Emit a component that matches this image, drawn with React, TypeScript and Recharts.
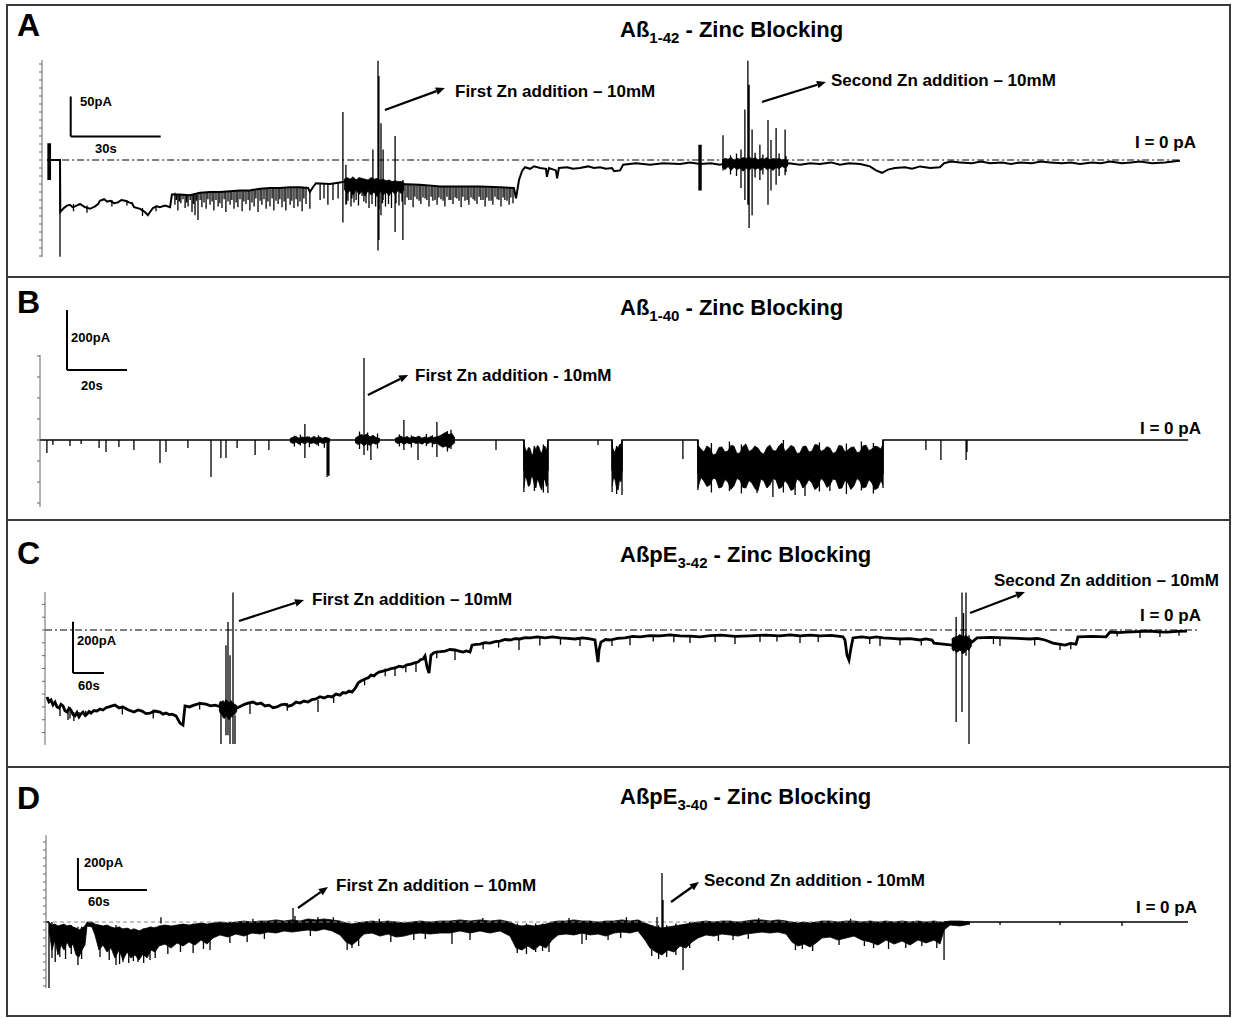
import React from 'react';
import { ComposedChart, Line, Area, XAxis, YAxis, ReferenceLine } from 'recharts';

// ================= Panel A : Aß1-42 (time in s, current in pA) =================
const traceA = [[1.7,0],[3,0],[6,0],[6.1,-65],[7.3,-60],[8.3,-57],[9.3,-56],[10.2,-59],[11,-58],[12.7,-55],[13.5,-57],[14.3,-59],[16,-61],[17.7,-58],[18.7,-55],[19.3,-51],[20.7,-49],[21.7,-52],[22.7,-51],[24,-54],[25.3,-53],[26.5,-50],[27.7,-51],[29,-53],[30,-54],[30.7,-59],[32.7,-61],[34.3,-65],[35.3,-69],[36,-65],[37,-60],[38.2,-58],[39.3,-59],[41,-57],[42.7,-59],[43.3,-43],[46,-43],[49.3,-44],[52.7,-41],[56,-40],[59.3,-40],[62.7,-39],[66,-38],[69.3,-38],[72.7,-36],[76,-35],[79.3,-35],[82.7,-34],[86,-34],[88.7,-35],[89.3,-40],[90.3,-34],[91.3,-29],[96,-30],[99.3,-28],[102.7,-26],[106,-26],[109.3,-29],[112.7,-30],[116,-31],[119.3,-30],[126,-31],[132.7,-33],[139.3,-33],[146,-33],[152.7,-34],[157.3,-35],[158,-48],[159,-25],[160,-14],[161,-9],[162.7,-11],[164,-8],[166,-10],[168,-11],[168.3,-21],[169,-10],[171.3,-13],[171.7,-23],[172.3,-10],[175,-9],[177,-11],[179.3,-10],[182,-8],[184,-10],[186,-9],[188,-11],[190,-10],[190.7,-14],[192.7,-13],[193.7,-6],[198,-4],[202.7,-6],[207,-4],[212.7,-5],[216,-3],[219.3,-5],[223,-4],[226,-6],[229,-3],[232.7,-5],[236,-4],[239.3,-5],[243,-3],[246,-5],[249,-4],[252.7,-6],[256,-4],[259.3,-5],[263,-3],[266,-6],[269,-4],[272.7,-5],[276,-8],[278,-13],[280,-16],[282,-12],[284.3,-10],[287.7,-9],[290,-11],[292.7,-8],[296,-10],[299.3,-9],[300.7,-4],[303,-2],[306,-3],[310,-4],[313,-2],[316,-4],[320,-3],[323,-5],[326,-3],[330,-4],[333,-2],[336,-3],[340,-4],[343,-3],[346,-5],[350,-3],[353,-4],[356,-2],[360,-4],[363,-3],[366,-2],[370,-4],[374.3,-3],[377,-2],[379.3,-1]];
// [time, low, high]
const spikesA = [[2,-25,21],[2.2,-25,21],[2.4,-25,21],[2.6,-25,21],[2.8,-25,21],[6,-121,0],
[10.5,-64,-55],[15,-66,-57],[23.3,-58,-50],[28.3,-57,-50],[33.5,-70,-60],[38,-64,-57],
[44.3,-56,-41],[45.3,-63,-43],[46.3,-54,-43],[47.7,-60,-43],[48.7,-58,-44],[50,-65,-44],[51,-69,-43],[52,-75,-41],[53.3,-59,-41],[54.7,-61,-41],[56,-56,-40],[57.3,-63,-40],[58.7,-58,-40],[60,-60,-40],[61.3,-65,-39],[62.7,-56,-39],[64,-61,-39],[65.3,-59,-38],[66.7,-64,-38],[68,-55,-38],[69.3,-63,-38],[70.7,-58,-36],[72,-65,-36],[73.3,-56,-36],[74.7,-61,-35],[76,-58,-35],[77.3,-63,-35],[78.7,-55,-35],[80,-59,-35],[81.3,-63,-34],[82.7,-56,-34],[84,-60,-34],[85.3,-58,-34],[86.7,-64,-34],[88,-55,-35],[89.3,-61,-38],
[44.8,-50,-43],[45.8,-52,-43],[47,-49,-43],[48.2,-53,-44],[49.4,-50,-44],[50.5,-55,-43],[51.5,-51,-43],[52.7,-50,-41],[54,-53,-41],[55.3,-49,-41],[56.7,-52,-40],[58,-50,-40],[59.3,-54,-40],[60.7,-49,-39],[62,-52,-39],[63.3,-50,-39],[64.7,-53,-38],[66,-49,-38],[67.3,-52,-38],[68.7,-50,-38],[70,-53,-36],[71.3,-48,-36],[72.7,-51,-36],[74,-49,-35],[75.3,-52,-35],[76.7,-48,-35],[78,-51,-35],[79.3,-49,-35],[80.7,-52,-34],[82,-48,-34],[83.3,-51,-34],[84.7,-49,-34],[86,-52,-34],[87.3,-48,-35],
[92.7,-50,-29],[94,-48,-29],[95.3,-56,-30],[97,-50,-29],[98.7,-48,-28],[102,-51,-26],[103.3,-48,-26],[104.7,-50,-26],[106.7,-45,-26],[108,-54,-28],
[101.5,-55,-25],[103,-58,-24],[104,-53,-25],[105.5,-57,-24],[107.3,-52,-26],[109,-60,-27],[110,-55,-28],[111.2,-58,-28],[112.4,-62,-29],[113.5,-54,-29],[114.5,-58,-30],[115.5,-55,-30],[116.5,-60,-31],[118,-54,-31],[119,-57,-30],[120,-52,-30],
[121,-56,-30],[122.3,-50,-30],[123.7,-59,-31],[125,-49,-31],[126.3,-55,-31],[127.7,-48,-31],[129,-58,-33],[130.3,-51,-33],[131.7,-56,-33],[133,-49,-33],[134.3,-58,-33],[135.7,-50,-33],[137,-55,-33],[138.3,-48,-33],[139.7,-59,-33],[141,-51,-33],[142.3,-56,-33],[143.7,-49,-33],[145,-55,-33],[146.3,-50,-33],[147.7,-58,-33],[149,-51,-34],[150.3,-56,-34],[151.7,-49,-34],[153,-58,-34],[154.3,-50,-34],[155.7,-56,-35],[157,-54,-35],
[121.7,-47,-30],[123,-50,-30],[124.3,-46,-31],[125.7,-51,-31],[127,-47,-31],[128.3,-50,-32],[129.7,-46,-33],[131,-50,-33],[132.3,-47,-33],[133.7,-51,-33],[135,-46,-33],[136.3,-50,-33],[137.7,-47,-33],[139,-51,-33],[140.3,-46,-33],[141.7,-50,-33],[143,-47,-33],[144.3,-51,-33],[145.7,-46,-33],[147,-50,-33],[148.3,-47,-34],[149.7,-51,-34],[151,-46,-34],[152.3,-50,-34],[153.7,-47,-34],[155,-51,-35],[156.3,-47,-35],
[100.3,-78,60],[101.3,-56,-6],[110.3,-31,13],[112,-113,124],[112.3,-100,105],[113,-69,46],[113.7,-50,13],[117.7,-90,30],[120.3,-100,-25],
[219,-38,19],[219.3,-38,19],[219.7,-38,19],[227,-13,31],[233,-35,13],[234.3,-50,63],[235.3,-56,124],[235.7,-85,94],[236.7,-69,38],[239.3,-25,19],[242,-56,50],[243,-38,25],[244.7,-31,40],[247.7,-19,38],
[229.5,-18,6],[231.5,-20,8],[237.7,-22,9],[240.3,-18,7],[245.7,-20,8],[248,-15,5]];
const bandA1 = [[100.7,-36,-24],[101.7,-42,-22],[102.7,-38,-24],[103.7,-44,-21],[104.7,-37,-25],[105.7,-43,-22],[106.7,-39,-23],[107.7,-45,-24],[108.7,-38,-25],[109.7,-44,-22],[110.7,-40,-24],[111.7,-46,-23],[112.7,-39,-25],[113.7,-44,-24],[114.7,-40,-26],[115.7,-45,-25],[116.7,-39,-27],[117.7,-43,-26],[118.7,-38,-27],[119.7,-42,-27],[120.7,-37,-28]];
const bandA2 = [[226.7,-9,0],[227.7,-12,2],[228.7,-8,1],[229.7,-13,3],[230.7,-9,0],[231.7,-12,2],[232.7,-10,1],[233.7,-14,3],[234.7,-10,2],[235.7,-13,4],[236.7,-9,1],[237.7,-12,3],[238.7,-10,0],[239.7,-13,2],[240.7,-9,1],[241.7,-12,3],[242.7,-10,0],[243.7,-13,2],[244.7,-9,1],[245.7,-11,2],[246.7,-8,0],[247.7,-10,1],[248.7,-7,-1]];
const ticksA = [-120,-110,-100,-90,-80,-70,-60,-50,-40,-30,-20,-10,0,10,20,30,40,50,60,70,80,90,100,110,120];

// ================= Panel B : Aß1-40 =================
const traceB = [[0,0],[161.3,0],[161.3,-100],[169.3,-100],[169.3,0],[190.7,0],[190.7,-100],[194,-100],[194,0],[219.3,0],[219.3,-110],[281,-110],[281,0],[382.7,0]];
const spikesB = [[2.3,-43,0],[4.3,-17,0],[10,-20,0],[13.7,-13,0],[19.7,-27,0],[22,-40,0],[26.3,-23,0],[31.3,-33,0],[40,-77,0],[42,-40,0],[49.3,-27,0],[57,-123,0],[60.3,-60,0],[62,-60,0],[65.7,-27,0],[71.7,-50,0],[76.3,-33,0],
[84.8,-22,14],[86.8,-18,18],[89.8,-24,12],[92.8,-20,16],[94.8,-26,10],
[88.3,-60,53],[95.7,-123,0],[96,-117,0],[96.3,-120,0],[108,-50,273],[110.3,-67,10],[106.5,-30,28],[109.2,-35,25],[112.5,-28,22],
[121.3,-33,67],[126,-67,10],[132.3,-57,60],[119.8,-22,18],[123.8,-25,15],[128.8,-20,20],[130.8,-24,16],[135.8,-38,30],[137,-30,34],
[152,-33,0],[186,-17,0],[214.3,-63,0],
[161.3,-173,0],[169.3,-177,0],[190.7,-173,0],[194,-183,0],[219.3,-167,0],[281,-160,0],[239,-177,-50],[244.3,-190,-60],[251.7,-183,-40],[255,-187,-45],[263.3,-170,-40],
[164.8,-170,-20],[167.8,-175,-15],[192.2,-180,-20],[223.8,-175,-10],[229.8,-170,-5],[233.8,-178,-15],[247.8,-175,0],[259.8,-172,-8],[268.8,-180,-12],[273.8,-168,-5],[277.8,-178,-10],
[295.3,-33,0],[300.3,-67,0],[308.7,-67,0],[309,-40,0]];
const bandB1 = [[83.3,-6,5],[84.3,-12,9],[85.3,-7,12],[86.3,-14,6],[87.3,-8,10],[88.3,-13,8],[89.3,-6,11],[90.3,-12,6],[91.3,-9,12],[92.3,-15,7],[93.3,-7,10],[94.3,-12,5],[95.3,-8,9],[96.7,-5,4]];
const bandB2 = [[105,-8,6],[106,-15,12],[107,-10,18],[108,-20,15],[109,-12,20],[110,-18,10],[111,-10,16],[112,-14,8],[113.3,-6,5]];
const bandB3 = [[118.3,-6,5],[119.3,-12,9],[120.3,-8,13],[121.3,-14,7],[122.3,-9,12],[123.3,-13,6],[124.3,-7,11],[125.3,-12,8],[126.3,-9,13],[127.3,-14,6],[128.3,-8,10],[129.3,-12,7],[130.3,-7,12],[131.3,-13,8],[132.3,-10,11],[133.3,-18,14],[134.3,-24,20],[135.3,-20,26],[136.3,-27,18],[137.3,-18,22],[138.3,-8,6]];
const bandB4 = [[161.3,-160,-13],[161.8,-120,-30],[162.3,-133,-40],[162.8,-155,-25],[163.3,-150,-27],[163.8,-120,-45],[164.3,-127,-50],[164.8,-150,-20],[165.3,-160,-33],[165.8,-130,-18],[166.3,-140,-23],[166.8,-158,-40],[167.3,-167,-43],[167.8,-128,-25],[168.3,-133,-20],[168.8,-155,-35],[169.3,-147,-13]];
const bandB5 = [[190.7,-153,-20],[191.2,-125,-35],[191.7,-133,-40],[192.2,-160,-22],[192.7,-167,-27],[193.2,-130,-15],[193.7,-140,-13],[194,-100,-7]];
const bandB6 = [[219.3,-160,-17],[220.3,-125,-30],[221.3,-137,-40],[222.3,-155,-20],[223.3,-150,-27],[224.3,-128,-50],[225.3,-130,-47],[226.3,-160,-25],[227.3,-157,-23],[228.3,-132,-40],[229.3,-140,-37],[230.3,-165,-18],[231.3,-153,-20],[232.3,-128,-45],[233.3,-133,-43],[234.3,-158,-22],[235.3,-160,-13],[236.3,-135,-38],[237.3,-143,-33],[238.3,-162,-20],[239.3,-170,-27],[240.3,-130,-42],[241.3,-137,-47],[242.3,-160,-25],[243.3,-150,-17],[244.3,-128,-35],[245.3,-133,-37],[246.3,-162,-20],[247.3,-157,-10],[248.3,-135,-38],[249.3,-147,-30],[250.3,-168,-18],[251.3,-163,-23],[252.3,-130,-45],[253.3,-137,-43],[254.3,-160,-22],[255.3,-150,-20],[256.3,-132,-40],[257.3,-143,-37],[258.3,-165,-15],[259.3,-157,-17],[260.3,-128,-38],[261.3,-137,-33],[262.3,-158,-22],[263.3,-150,-27],[264.3,-130,-45],[265.3,-133,-40],[266.3,-162,-18],[267.3,-160,-20],[268.3,-135,-40],[269.3,-143,-33],[270.3,-165,-25],[271.3,-153,-23],[272.3,-128,-42],[273.3,-137,-40],[274.3,-160,-20],[275.3,-157,-17],[276.3,-132,-36],[277.3,-143,-30],[278.3,-166,-20],[279.3,-160,-23],[280.3,-135,-30],[281,-150,-13]];
const ticksB = [-210,-140,-70,0,70,140,210,280];

// ================= Panel C : AßpE3-42 =================
const traceC = [[3.9,-261],[7.8,-280],[11.6,-273],[15.5,-292],[19.4,-281],[23.3,-300],[27.2,-304],[31,-290],[34.9,-296],[38.8,-315],[42.7,-320],[46.5,-305],[50.4,-312],[54.3,-330],[58.2,-335],[62,-322],[66,-339],[70,-326],[73.7,-320],[77.6,-333],[81.5,-328],[85.4,-318],[89.2,-324],[95,-314],[100.9,-316],[106.7,-308],[112.5,-312],[118.4,-303],[124.2,-300],[130,-296],[135.8,-293],[143.6,-304],[151.3,-300],[162,-312],[172.7,-320],[180.5,-312],[188.2,-316],[196,-326],[203.7,-324],[213.4,-316],[223.1,-320],[228.9,-328],[234.7,-324],[240.5,-330],[246.4,-328],[254.1,-335],[261.9,-363],[267.7,-371],[269.7,-332],[271.6,-296],[280.3,-300],[289.1,-293],[300.7,-286],[312.3,-289],[321,-296],[329.8,-293],[341.4,-300],[357,-296],[372.5,-304],[380.3,-296],[388,-289],[395.8,-284],[403.5,-281],[411.3,-289],[419,-285],[426.8,-296],[434.6,-293],[442.3,-303],[450.1,-300],[457.9,-292],[465.6,-289],[472.4,-297],[479.2,-293],[487,-281],[494.7,-285],[502.5,-277],[510.2,-281],[518,-271],[525.7,-269],[533.5,-260],[541.3,-265],[549,-258],[556.8,-261],[564.6,-250],[572.3,-254],[578.1,-244],[583.9,-246],[589.7,-238],[595.6,-242],[600,-232],[603.3,-222],[607.2,-207],[612,-200],[616.9,-195],[621.8,-190],[626.6,-187],[632.4,-176],[638.3,-179],[643.1,-170],[648,-164],[655.7,-160],[663.5,-156],[671.3,-151],[679,-148],[686.8,-141],[694.5,-144],[702.3,-136],[710,-133],[716.8,-128],[723.6,-125],[728.5,-116],[733.3,-113],[737.2,-101],[741.1,-144],[745,-168],[748.8,-98],[753.7,-90],[758.5,-86],[767.3,-84],[776,-82],[785.7,-76],[795.4,-78],[803.2,-82],[810.9,-86],[817.7,-82],[824.5,-86],[828.4,-59],[836.2,-56],[843.9,-55],[853.6,-49],[863.3,-51],[873,-45],[882.7,-43],[892.4,-37],[902.1,-39],[911.8,-34],[921.5,-35],[931.2,-30],[940.9,-31],[955.5,-27],[970,-31],[984.6,-27],[999.1,-31],[1013.7,-33],[1028.2,-35],[1042.8,-31],[1057.3,-35],[1067,-39],[1070.9,-98],[1072.8,-125],[1074.8,-78],[1078.6,-47],[1087.4,-37],[1096.1,-39],[1110.7,-33],[1125.2,-31],[1139.8,-25],[1154.3,-27],[1173.7,-22],[1193.1,-23],[1212.5,-19],[1231.9,-23],[1251.3,-24],[1270.7,-27],[1291,-22],[1311.4,-20],[1339.6,-25],[1367.7,-23],[1396.8,-20],[1425.9,-23],[1445.3,-19],[1464.7,-23],[1484.1,-20],[1503.5,-23],[1525.8,-21],[1548.1,-27],[1552,-39],[1555.9,-98],[1559.7,-117],[1563.6,-70],[1567.5,-31],[1584,-27],[1600.5,-31],[1613.1,-27],[1625.7,-31],[1642.2,-33],[1658.7,-35],[1678.1,-34],[1697.5,-39],[1709.2,-35],[1720.8,-39],[1724.7,-51],[1742.2,-55],[1759.6,-59],[1779,-51],[1798.4,-47],[1808.1,-31],[1835.3,-29],[1862.4,-31],[1886.7,-33],[1910.9,-35],[1925.5,-33],[1940,-39],[1955.5,-51],[1967.2,-55],[1978.8,-59],[1989.5,-52],[2000.1,-55],[2004,-27],[2031.2,-25],[2058.3,-27],[2066.1,-8],[2081.6,-10],[2097.1,-8],[2120.4,-6],[2143.7,-4],[2160.2,-7],[2176.7,-8],[2196.1,-5],[2215.5,-4]];
const spikesC = [[341.4,-445,-293],[351.1,-410,-59],[355,-410,31],[358.9,-445,-98],[364.7,-445,146],[368.6,-445,-332],
[1767.6,-359,51],[1779,-320,146],[1782,-80,66],[1786.7,-100,146],[1792.6,-445,-20],
[29.1,-335,-293],[44.6,-351,-312],[66,-343,-320],[48.5,-345,-300],[56,-355,-320],[79,-340,-315],[397.7,-328,-281],[529.6,-320,-273],[679,-179,-144],[719.7,-164,-125],[795.4,-117,-78],[919.6,-78,-35],[1037.9,-62,-31],[1134.9,-59,-23],[1251.3,-51,-23],[1338.6,-55,-23],[1387.1,-47,-20],[1464.7,-51,-23],[1619.9,-62,-27],[1658.7,-59,-31],[1852.7,-62,-31],[1969.1,-78,-51],[2124.3,-31,0],[2163,-27,0],
[150,-330,-295],[210,-345,-310],[300,-310,-280],[470,-315,-285],[560,-285,-255],[620,-215,-190],[660,-180,-150],[700,-165,-135],[760,-110,-84],[850,-75,-50],[880,-68,-40],[960,-60,-28],[1000,-58,-28],[1100,-62,-35],[1180,-45,-20],[1220,-48,-20],[1300,-47,-20],[1420,-45,-20],[1500,-47,-20],[1600,-55,-28],[1700,-60,-35],[1840,-55,-28],[1920,-60,-33],[1990,-75,-50],[2080,-25,-5],[2200,-22,-3]];
const bandC1 = [[337.6,-310,-290],[340,-325,-278],[343,-330,-280],[345.5,-342,-275],[348,-345,-285],[350.5,-338,-272],[353,-335,-275],[355.5,-348,-280],[358,-350,-285],[360.5,-336,-275],[363,-340,-280],[365.5,-328,-285],[368,-330,-290],[372.5,-315,-295]];
const bandC2 = [[1759,-70,-35],[1762,-82,-30],[1765,-78,-28],[1768,-88,-24],[1771,-85,-25],[1774,-80,-18],[1777,-80,-20],[1780,-92,-24],[1783,-90,-28],[1786,-82,-20],[1789,-75,-25],[1792,-80,-30],[1795,-70,-35],[1798,-60,-40]];
const ticksC = [-400,-350,-300,-250,-200,-150,-100,-50,0,50,100];

// ================= Panel D : AßpE3-40 =================
const traceD = [[0,0],[2.6,0],[2.7,null],[781.3,0],[993.5,0]];
const spikesD = [[2.6,-412,0],[5.2,-225,0],[27.8,-269,-30],[60.9,-269,-19],[67,-250,-40],[80,-250,-50],[90.5,-238,-30],[142.7,-175,-10],[214.9,-50,88],[216.6,-40,38],[236.6,-40,31],[266.2,-163,-10],[353.2,-138,0],[368.9,-113,0],[437.6,-188,-10],[466.3,-138,0],[489,-113,0],[531.6,-60,31],[535.9,-80,306],[536.8,-100,138],[554.2,-300,-20],[597.7,-113,0],[781.3,-238,0],[830,-19,0],[882.2,-19,0],[936.1,-25,0],
[8,-250,-20],[12,-219,-20],[17,-231,-20],[22,-200,-20],[31,-231,-30],[47,-219,-20],[55,-238,-30],[64,-263,-30],[72,-256,-40],[76,-244,-40],[85,-256,-40],[95,-225,-30],[106,-200,-20],[117,-188,-20],[128,-194,-10],[137,-169,-10],[160,-131,0],[175,-125,0],[190,-106,0],[230,-88,0],[262,-175,-10],[272,-150,0],[300,-125,0],[320,-113,0],[330,-106,0],[410,-194,-10],[418,-200,-10],[426,-188,-10],[432,-181,-10],[470,-113,0],[500,-100,0],[527,-213,-20],[533,-231,-20],[540,-219,-20],[548,-206,-10],[560,-163,0],[585,-119,0],[611,-106,0],[652,-175,0],[658,-169,0],[667,-181,0],[690,-144,0],[712,-150,0],[720,-163,0],[733,-169,0],[748,-163,0],[762,-150,0],[775,-163,0],
[100,30,-10],[180,20,0],[250,30,5],[290,20,0],[380,25,0],[455,25,0],[505,30,5],[620,25,5],[700,20,0]];
const bandD = [[2.6,-50,0],[5.2,-175,-19],[7.8,-113,-13],[10.4,-206,-25],[13.1,-144,-19],[15.7,-175,-13],[18.3,-125,-25],[20.9,-163,-19],[23.5,-138,-31],[26.1,-206,-38],[28.7,-219,-50],[31.3,-175,-38],[33.9,-144,-25],[35.7,-25,0],[40,-31,0],[42.6,-81,-13],[46.1,-175,-19],[49.6,-144,-25],[53.1,-188,-19],[56.6,-163,-31],[60,-225,-38],[63.5,-175,-31],[67,-238,-44],[70.5,-188,-38],[73.9,-225,-50],[77.4,-206,-44],[80.9,-238,-56],[84.4,-200,-44],[87.9,-225,-38],[91.4,-175,-31],[94.8,-188,-38],[98.3,-150,-25],[103.5,-138,-19],[108.8,-163,-25],[114,-131,-19],[119.2,-150,-13],[124.4,-125,-19],[129.6,-144,-13],[134.9,-113,-6],[140.1,-138,-13],[145.3,-100,-6],[151.4,-81,0],[158.3,-94,-6],[165.3,-75,0],[172.3,-88,6],[179.2,-69,0],[186.2,-75,6],[193.1,-63,6],[200.1,-69,13],[207.1,-56,6],[214,-63,13],[221,-56,6],[227.9,-50,19],[234.9,-56,13],[241.9,-44,19],[248.8,-56,13],[255.8,-81,6],[261,-125,-6],[266.2,-144,-13],[271.4,-113,-6],[276.7,-75,0],[283.6,-69,6],[290.6,-88,0],[297.5,-75,6],[304.5,-94,0],[311.5,-88,-6],[318.4,-75,0],[325.4,-69,6],[334.1,-75,0],[342.8,-69,6],[351.5,-69,6],[360.2,-56,13],[368.9,-69,6],[377.6,-56,13],[386.3,-69,6],[395,-56,13],[403.7,-88,0],[408.9,-163,-19],[414.1,-175,-25],[419.3,-150,-19],[424.6,-175,-25],[429.8,-144,-19],[435,-163,-13],[440.2,-113,0],[445.4,-81,6],[452.4,-75,6],[459.4,-81,13],[466.3,-69,6],[473.3,-81,6],[480.2,-75,0],[487.2,-88,6],[494.2,-69,6],[501.1,-63,13],[508.1,-69,6],[515,-56,13],[521.1,-113,-6],[525.5,-163,-19],[530.7,-188,-31],[535.9,-206,-38],[541.1,-175,-31],[546.4,-188,-25],[551.6,-150,-19],[556.8,-163,-13],[562,-125,-6],[567.2,-100,0],[574.2,-81,6],[581.2,-88,0],[588.1,-75,6],[595.1,-81,6],[602,-88,0],[609,-75,6],[616,-69,13],[622.9,-63,13],[629.9,-69,6],[636.8,-63,13],[643.8,-75,6],[649,-125,0],[654.2,-150,-6],[659.5,-138,0],[664.7,-156,-6],[669.9,-131,0],[675.1,-100,6],[682.1,-94,6],[689,-113,0],[696,-100,6],[703,-88,6],[709.9,-113,0],[716.9,-125,6],[723.8,-144,0],[730.8,-113,6],[737.8,-138,0],[744.7,-119,6],[751.7,-144,0],[758.6,-113,6],[765.6,-131,0],[772.6,-113,6],[777.8,-138,0],[781.3,-50,0],[786.5,-19,6],[795.2,-25,6],[803.9,-13,0]];
const ticksD = [-400,-350,-300,-250,-200,-150,-100,-50,0,50,100,150,200,250,300,350,400,450,500];

// ---------- table builders ----------
const lineRows = (pts) => pts.map(([t, v]) => ({ t, v }));
const spikeRows = (sp) => sp.flatMap(([t, lo, hi]) => [{ t, v: lo }, { t, v: hi }, { t, v: null }]);
const bandRows = (b) => b.map(([t, lo, hi]) => ({ t, r: [lo, hi] }));

const panels = [
  { id: 'A', top: 5, height: 272, margin: { top: 55, bottom: 20, left: 40, right: 39 }, x: [0, 384.67], y: [-121.25, 125], ticks: ticksA,
    trace: traceA, tw: 2, spikes: spikesA, bands: [bandA1, bandA2],
    zero: { from: 1.7, to: 380, dash: '7 3 2 3', color: '#000', w: 1.1 },
    bar: { t: 9.57, i: 29.4, dt: 30, di: 50 }, arrows: [[114.3, 62.5, 134.3, 90], [240, 72.5, 261.3, 97.5]] },
  { id: 'B', top: 277, height: 243, margin: { top: 78, bottom: 13, left: 38, right: 39 }, x: [0, 385.33], y: [-223.3, 283.3], ticks: ticksB,
    trace: traceB, tw: 1.6, spikes: spikesB, bands: [bandB1, bandB2, bandB3, bandB4, bandB5, bandB6],
    zero: null, bar: { t: 9, i: 233, dt: 20, di: 200 }, arrows: [[109.3, 150, 122.7, 217]] },
  { id: 'C', top: 520, height: 247, margin: { top: 72, bottom: 22, left: 43, right: 35 }, x: [0, 2240.7], y: [-448.5, 148.2], ticks: ticksC,
    trace: traceC, tw: 2.8, spikes: spikesC, bands: [bandC1, bandC2],
    zero: { from: 0, to: 2240, dash: '7 3 2 3', color: '#000', w: 1.1 },
    bar: { t: 54.3, i: -167.7, dt: 60, di: 200 }, arrows: [[376.4, 35.1, 502.5, 117], [1794.5, 66.3, 1901.2, 148.2]] },
  { id: 'D', top: 767, height: 251, margin: { top: 68, bottom: 30, left: 44, right: 39 }, x: [0, 1000.5], y: [-412.5, 543.75], ticks: ticksD,
    trace: traceD, tw: 1.6, spikes: spikesD, bands: [bandD],
    zero: { from: 0, to: 781, dash: '4 3', color: '#888', w: 1 },
    bar: { t: 27.8, i: 200, dt: 60, di: 200 }, arrows: [[219.2, 87.5, 245.3, 218.75], [543.8, 125, 568.1, 250]] },
];

const Arrow = (p) => {
  const { x1, y1, x2, y2 } = p;
  const a = Math.atan2(y2 - y1, x2 - x1);
  const L = 9, W = 3.8;
  const bx = x2 - L * Math.cos(a), by = y2 - L * Math.sin(a);
  const nx = -Math.sin(a), ny = Math.cos(a);
  return (
    <g>
      <line x1={x1} y1={y1} x2={bx} y2={by} stroke="#000" strokeWidth={2.2} />
      <polygon points={`${x2},${y2} ${bx + nx * W},${by + ny * W} ${bx - nx * W},${by - ny * W}`} fill="#000" />
    </g>
  );
};

const NoLabel = () => <g />;

function Panel({ p }) {
  return (
    <div style={{ position: 'absolute', left: 0, top: p.top, width: 1235, height: p.height }}>
      <ComposedChart width={1235} height={p.height} margin={p.margin}>
        <XAxis type="number" dataKey="t" domain={p.x} hide allowDataOverflow />
        <YAxis type="number" domain={p.y} ticks={p.ticks} tick={NoLabel} tickSize={3} width={2} interval={0}
          axisLine={{ stroke: '#666', strokeWidth: 1 }} tickLine={{ stroke: '#666', strokeWidth: 1 }} allowDataOverflow />
        {p.zero && (
          <ReferenceLine segment={[{ x: p.zero.from, y: 0 }, { x: p.zero.to, y: 0 }]} stroke={p.zero.color}
            strokeWidth={p.zero.w} strokeDasharray={p.zero.dash} ifOverflow="visible" />
        )}
        {p.bands.map((b, k) => (
          <Area key={'b' + k} data={bandRows(b)} dataKey="r" type="linear" stroke="#000" strokeWidth={0.8}
            fill="#000" fillOpacity={1} dot={false} activeDot={false} isAnimationActive={false} />
        ))}
        <Line data={lineRows(p.trace)} dataKey="v" type="linear" stroke="#000" strokeWidth={p.tw}
          dot={false} activeDot={false} connectNulls={false} isAnimationActive={false} />
        <Line data={spikeRows(p.spikes)} dataKey="v" type="linear" stroke="#000" strokeWidth={1.3}
          dot={false} activeDot={false} connectNulls={false} isAnimationActive={false} />
        <ReferenceLine segment={[{ x: p.bar.t, y: p.bar.i }, { x: p.bar.t, y: p.bar.i + p.bar.di }]} stroke="#000" strokeWidth={2} ifOverflow="visible" />
        <ReferenceLine segment={[{ x: p.bar.t, y: p.bar.i }, { x: p.bar.t + p.bar.dt, y: p.bar.i }]} stroke="#000" strokeWidth={2} ifOverflow="visible" />
        {p.arrows.map((a, k) => (
          <ReferenceLine key={'a' + k} segment={[{ x: a[0], y: a[1] }, { x: a[2], y: a[3] }]} ifOverflow="visible" shape={Arrow} />
        ))}
      </ComposedChart>
    </div>
  );
}

const FONT = '"Liberation Sans", Arial, Helvetica, sans-serif';

function Txt({ x, y, size, children }) {
  return (
    <div style={{ position: 'absolute', left: x, top: y - size / 2, fontSize: size, lineHeight: `${size}px`,
      fontWeight: 700, fontFamily: FONT, whiteSpace: 'nowrap', color: '#000' }}>{children}</div>
  );
}

const Sub = ({ children }) => (
  <span style={{ fontSize: 15, position: 'relative', top: 6 }}>{children}</span>
);

const notes = [
  { x: 455, y: 91, t: 'First Zn addition – 10mM' },
  { x: 831, y: 80.5, t: 'Second Zn addition – 10mM' },
  { x: 1135, y: 142.5, t: 'I = 0 pA' },
  { x: 415, y: 375, t: 'First Zn addition - 10mM' },
  { x: 1140, y: 428, t: 'I = 0 pA' },
  { x: 312, y: 599, t: 'First Zn addition – 10mM' },
  { x: 994, y: 580, t: 'Second Zn addition – 10mM' },
  { x: 1140, y: 615, t: 'I = 0 pA' },
  { x: 336, y: 885, t: 'First Zn addition – 10mM' },
  { x: 704, y: 880, t: 'Second Zn addition - 10mM' },
  { x: 1136, y: 907, t: 'I = 0 pA' },
];
const scaleLabels = [
  { x: 80, y: 101, t: '50pA' }, { x: 95, y: 148.5, t: '30s' },
  { x: 71, y: 337, t: '200pA' }, { x: 81, y: 385, t: '20s' },
  { x: 77, y: 640, t: '200pA' }, { x: 78, y: 685, t: '60s' },
  { x: 84, y: 862, t: '200pA' }, { x: 88, y: 901, t: '60s' },
];
const letters = [{ x: 17, y: 24.5, t: 'A' }, { x: 17, y: 302, t: 'B' }, { x: 17, y: 553, t: 'C' }, { x: 17, y: 798, t: 'D' }];

export default function App() {
  return (
    <div style={{ position: 'absolute', left: 0, top: 0, width: 1235, height: 1018, background: '#fff', overflow: 'hidden' }}>
      <div style={{ position: 'absolute', left: 6, top: 4, width: 1225, height: 1013, border: '2px solid #3a3a3a', boxSizing: 'border-box' }} />
      {[276, 519, 766].map((y) => (
        <div key={y} style={{ position: 'absolute', left: 6, top: y, width: 1225, height: 2, background: '#3a3a3a' }} />
      ))}
      {panels.map((p) => <Panel key={p.id} p={p} />)}
      {letters.map((l) => <Txt key={l.t} x={l.x} y={l.y} size={32}>{l.t}</Txt>)}
      <Txt x={620} y={30} size={22}>Aß<Sub>1-42</Sub> - Zinc Blocking</Txt>
      <Txt x={620} y={307.5} size={22}>Aß<Sub>1-40</Sub> - Zinc Blocking</Txt>
      <Txt x={620} y={555} size={22}>AßpE<Sub>3-42</Sub> - Zinc Blocking</Txt>
      <Txt x={620} y={797} size={22}>AßpE<Sub>3-40</Sub> - Zinc Blocking</Txt>
      {notes.map((n, k) => <Txt key={'n' + k} x={n.x} y={n.y} size={17}>{n.t}</Txt>)}
      {scaleLabels.map((n, k) => <Txt key={'s' + k} x={n.x} y={n.y} size={13}>{n.t}</Txt>)}
    </div>
  );
}
